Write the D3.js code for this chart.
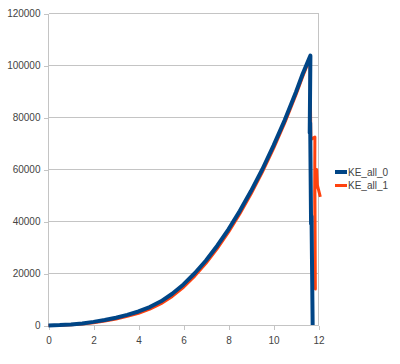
<!DOCTYPE html>
<meta charset="utf-8">
<style>
body { margin: 0; background: #fff; }
text { font: 10px "Liberation Sans", Arial, sans-serif; fill: #444; }
.grid line, .axis line, .frame { stroke: #c4c4c4; stroke-width: 1; shape-rendering: crispEdges; }
.axis path { display: none; }
.line { fill: none; stroke-linejoin: round; }
</style>
<svg width="400" height="364"></svg>
<script src="https://cdn.jsdelivr.net/npm/d3@7"></script>
<script>

// values
var xTicks = [0, 2, 4, 6, 8, 10, 12],
    yTicks = [0, 20000, 40000, 60000, 80000, 100000, 120000];

var seriesNames = ["KE_all_0", "KE_all_1"],
    seriesColors = ["#004586", "#ff420e"];

var t0 = [0, 0.5, 1, 1.5, 2, 2.5, 3, 3.5, 4, 4.5, 5, 5.5, 6, 6.5, 7, 7.5, 8, 8.5, 9, 9.5, 10, 10.5, 11, 11.3, 11.64,
          11.61, 11.63, 11.67, 11.69, 11.74];
var ke0 = [0, 150, 400, 800, 1400, 2100, 3000, 4100, 5400, 7100, 9300, 12200, 15800, 20100, 25000, 30700, 37000, 44000, 51700, 60000, 69200, 79000, 89800, 96800, 103800,
           74000, 78000, 39000, 42000, 200];

var t1 = [0, 0.5, 1, 1.5, 2, 2.5, 3, 3.5, 4, 4.5, 5, 5.5, 6, 6.5, 7, 7.5, 8, 8.5, 9, 9.5, 10, 10.5, 11, 11.3, 11.62,
          11.66, 11.84, 11.83, 11.86, 11.84, 11.92, 11.95, 12.08];
var ke1 = [0, 100, 300, 600, 1100, 1700, 2500, 3500, 4700, 6300, 8400, 11200, 14700, 19000, 23900, 29600, 35900, 42900, 50600, 58900, 68000, 77900, 88800, 95800, 102800,
           71500, 72500, 50000, 14000, 52000, 60000, 54000, 49500];

var svg = d3.select("svg");

var x = d3.scaleLinear().domain([0, 12]).range([48.5, 318.5]),
    y = d3.scaleLinear().domain([0, 120000]).range([325.5, 13.5]);

// horizontal grid
svg.append("g").attr("class", "grid")
  .selectAll("line")
    .data(yTicks)
  .enter().append("line")
    .attr("x1", x(0)).attr("x2", x(12))
    .attr("y1", function(d) { return y(d); })
    .attr("y2", function(d) { return y(d); });

svg.append("line").attr("class", "frame")
    .attr("x1", x(12)).attr("x2", x(12))
    .attr("y1", y(120000)).attr("y2", y(0));

svg.append("g").attr("class", "axis")
    .attr("transform", "translate(" + x(0) + ",0)")
    .call(d3.axisLeft(y).tickValues(yTicks).tickSize(5).tickPadding(3).tickFormat(d3.format("d")))
    .call(function(g) {
      g.append("line").attr("y1", y(0)).attr("y2", y(120000));
    });

svg.append("g").attr("class", "axis")
    .attr("transform", "translate(0," + y(0) + ")")
    .call(d3.axisBottom(x).tickValues(xTicks).tickSize(4).tickPadding(7).tickFormat(d3.format("d")))
    .call(function(g) {
      g.append("line").attr("x1", x(0)).attr("x2", x(12));
    });

svg.selectAll(".axis text").style("fill", "#444").style("font-size", "10px");

var line = d3.line()
    .x(function(d) { return x(d[0]); })
    .y(function(d) { return y(d[1]); });

svg.append("path").attr("class", "line")
    .datum(d3.zip(t1, ke1))
    .attr("stroke", seriesColors[1])
    .attr("stroke-width", 3)
    .attr("d", line);

svg.append("path").attr("class", "line")
    .datum(d3.zip(t0, ke0))
    .attr("stroke", seriesColors[0])
    .attr("stroke-width", 4)
    .attr("d", line);

// legend
var legend = svg.append("g")
  .selectAll("g")
    .data(seriesNames)
  .enter().append("g")
    .attr("transform", function(d, i) { return "translate(335," + (172 + i * 13.5) + ")"; });

legend.append("line")
    .attr("x1", 0).attr("x2", 12)
    .attr("stroke", function(d, i) { return seriesColors[i]; })
    .attr("stroke-width", function(d, i) { return i ? 3 : 4; });

legend.append("text")
    .attr("x", 13)
    .attr("dy", "0.35em")
    .text(function(d) { return d; });

</script>
